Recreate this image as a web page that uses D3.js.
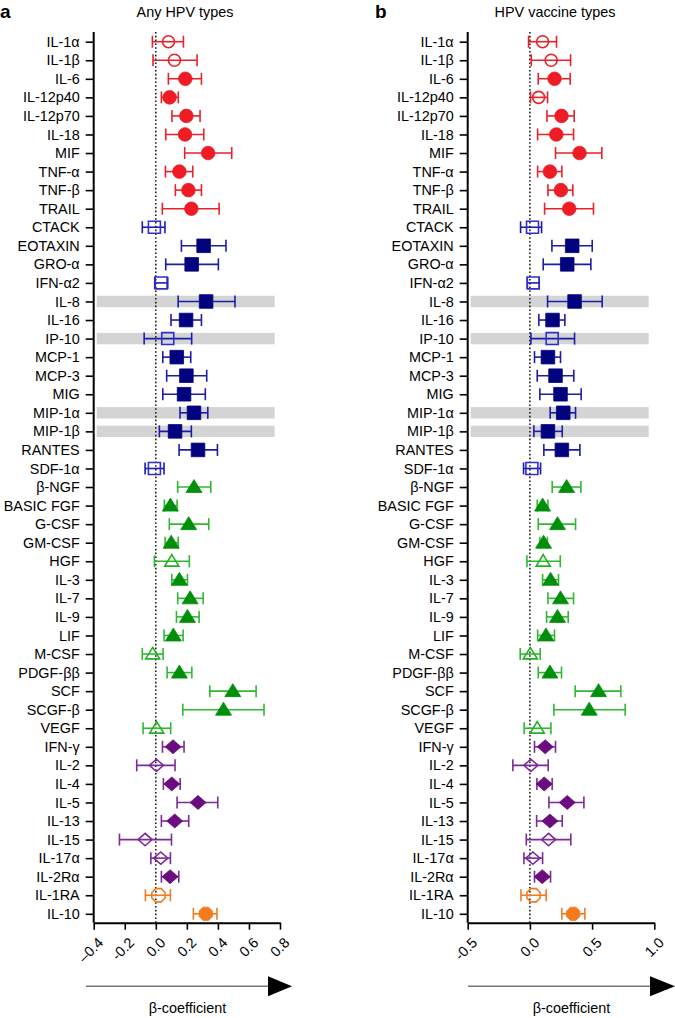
<!DOCTYPE html>
<html><head><meta charset="utf-8">
<script src="https://cdn.jsdelivr.net/npm/d3@7"></script>
<style>body{margin:0;background:#fff}svg{display:block;font-family:"Liberation Sans",Arial,Helvetica,sans-serif}</style>
</head><body><svg id="chart" width="675" height="1018"></svg>
<script>
const cytokines = ["IL-1α","IL-1β","IL-6","IL-12p40","IL-12p70","IL-18","MIF","TNF-α","TNF-β","TRAIL",
 "CTACK","EOTAXIN","GRO-α","IFN-α2","IL-8","IL-16","IP-10","MCP-1","MCP-3","MIG","MIP-1α","MIP-1β","RANTES","SDF-1α",
 "β-NGF","BASIC FGF","G-CSF","GM-CSF","HGF","IL-3","IL-7","IL-9","LIF","M-CSF","PDGF-ββ","SCF","SCGF-β","VEGF",
 "IFN-γ","IL-2","IL-4","IL-5","IL-13","IL-15","IL-17α","IL-2Rα","IL-1RA","IL-10"];
const groupNames = ["red","blue","green","purple","orange"];
const groupSizes = [10,14,14,8,2];
const highlighted = ["IL-8","IP-10","MIP-1α","MIP-1β"];

// Panel a: Any HPV types
const estA  = [0.082,0.120,0.190,0.089,0.197,0.188,0.337,0.152,0.210,0.229,
 -0.009,0.308,0.231,0.034,0.324,0.195,0.077,0.135,0.197,0.182,0.246,0.124,0.272,-0.009,
 0.246,0.094,0.212,0.099,0.103,0.152,0.221,0.204,0.113,-0.020,0.152,0.496,0.436,0.006,
 0.111,0.004,0.103,0.272,0.122,-0.069,0.032,0.092,0.017,0.322];
const lowA  = [-0.022,-0.018,0.081,0.036,0.104,0.064,0.186,0.062,0.126,0.042,
 -0.087,0.165,0.064,-0.007,0.144,0.098,-0.075,0.045,0.070,0.045,0.156,0.023,0.150,-0.069,
 0.141,0.055,0.087,0.060,-0.009,0.103,0.141,0.133,0.053,-0.087,0.073,0.348,0.174,-0.082,
 0.043,-0.123,0.049,0.137,0.036,-0.234,-0.032,0.036,-0.067,0.242];
const highA = [0.178,0.266,0.294,0.145,0.285,0.309,0.489,0.238,0.294,0.408,
 0.059,0.452,0.403,0.077,0.510,0.294,0.231,0.225,0.328,0.319,0.335,0.229,0.397,0.053,
 0.354,0.137,0.341,0.144,0.216,0.204,0.305,0.279,0.176,0.047,0.232,0.646,0.697,0.096,
 0.182,0.124,0.157,0.399,0.212,0.101,0.094,0.148,0.094,0.394];
const filledA = [0,0,1,1,1,1,1,1,1,1, 0,1,1,0,1,1,0,1,1,1,1,1,1,0, 1,1,1,1,0,1,1,1,1,0,1,1,1,0, 1,0,1,1,1,0,0,1, 0,1];

// Panel b: HPV vaccine types
const estB  = [0.102,0.171,0.198,0.070,0.254,0.212,0.399,0.161,0.249,0.316,
 0.021,0.340,0.300,0.027,0.359,0.182,0.179,0.145,0.206,0.246,0.268,0.145,0.257,0.016,
 0.295,0.102,0.222,0.110,0.107,0.166,0.246,0.222,0.129,0.003,0.161,0.552,0.477,0.059,
 0.123,0.008,0.115,0.300,0.161,0.150,0.024,0.099,0.029,0.348];
const lowB  = [-0.011,0.011,0.067,0.005,0.137,0.062,0.206,0.062,0.145,0.118,
 -0.075,0.177,0.107,-0.021,0.142,0.072,0.008,0.037,0.059,0.080,0.163,0.032,0.112,-0.051,
 0.179,0.059,0.067,0.080,-0.024,0.102,0.145,0.134,0.062,-0.078,0.067,0.364,0.193,-0.046,
 0.037,-0.137,0.056,0.153,0.054,-0.029,-0.048,0.037,-0.072,0.257];
const highB = [0.214,0.327,0.324,0.142,0.356,0.351,0.578,0.257,0.345,0.511,
 0.094,0.501,0.490,0.075,0.581,0.281,0.359,0.246,0.353,0.412,0.367,0.260,0.402,0.086,
 0.410,0.145,0.367,0.140,0.244,0.230,0.351,0.308,0.198,0.083,0.254,0.731,0.766,0.169,
 0.206,0.147,0.179,0.434,0.260,0.329,0.102,0.166,0.131,0.442];
const filledB = [0,0,1,0,1,1,1,1,1,1, 0,1,1,0,1,1,0,1,1,1,1,1,1,0, 1,1,1,1,0,1,1,1,1,0,1,1,1,0, 1,0,1,1,1,0,0,1, 0,1];

const ticksA = [-0.4,-0.2,0.0,0.2,0.4,0.6,0.8];
const tickLabelsA = ["–0.4","-0.2","0.0","0.2","0.4","0.6","0.8"];
const ticksB = [-0.5,0.0,0.5,1.0];
const tickLabelsB = ["-0.5","0.0","0.5","1.0"];

const style = {
  red:    {fill:"#ee1c24", line:"#e8222a", open:"#e8222a", shape:"circle"},
  blue:   {fill:"#02027f", line:"#1c1ca6", open:"#2e2ed2", shape:"square"},
  green:  {fill:"#008f0a", line:"#30b830", open:"#22b022", shape:"triangle"},
  purple: {fill:"#6b0d7e", line:"#7d2a98", open:"#7d2a98", shape:"diamond"},
  orange: {fill:"#f47a20", line:"#f47a20", open:"#f47a20", shape:"octagon"}
};
const groupOf = [];
groupSizes.forEach((n,i)=>{for(let k=0;k<n;k++) groupOf.push(groupNames[i]);});

const svg = d3.select("#chart");
const font = 14.4;

function shapePath(shape, filled){
  const s = filled ? 1 : 0.88;
  if(shape==="circle"){ const r=6.8*s; return `M${r},0A${r},${r} 0 1,1 ${-r},0A${r},${r} 0 1,1 ${r},0Z`; }
  if(shape==="square"){ const h=6.8*s; return `M${-h},${-h}H${h}V${h}H${-h}Z`; }
  if(shape==="triangle"){ return `M0,${-7.5*s}L${8*s},${5.5*s}L${-8*s},${5.5*s}Z`; }
  if(shape==="diamond"){ return `M${-8*s},0L0,${-7*s}L${8*s},0L0,${7*s}Z`; }
  if(shape==="octagon"){ const r=7.2; let p=""; for(let i=0;i<8;i++){const a=Math.PI/8+i*Math.PI/4; p+=(i?"L":"M")+(r*Math.cos(a)).toFixed(2)+","+(r*Math.sin(a)).toFixed(2);} return p+"Z"; }
}

function panel(opt){
  const g = svg.append("g");
  const x = d3.scaleLinear().domain(opt.domain).range([opt.x0, opt.x1]);
  const y = d3.scalePoint().domain(cytokines).range([41.7, 913.8]);
  const axisY = 922.7;

  // bands
  g.selectAll("rect.band").data(highlighted).join("rect")
    .attr("x", opt.x0+3).attr("width", opt.bandW)
    .attr("y", d=>y(d)-5.7).attr("height", 11.4).attr("fill","#d4d4d4");

  // zero line
  g.append("line").attr("x1",x(0)).attr("x2",x(0)).attr("y1",32).attr("y2",axisY)
    .attr("stroke","#111").attr("stroke-width",1.5).attr("stroke-dasharray","1.6,2.2");

  const rows = cytokines.map((c,i)=>({c, e:opt.est[i], lo:opt.low[i], hi:opt.high[i], f:opt.filled[i], grp:groupOf[i]}));
  const eb = g.selectAll("g.eb").data(rows).join("g").attr("transform",d=>`translate(0,${y(d.c)})`);
  eb.append("line").attr("x1",d=>x(d.lo)).attr("x2",d=>x(d.hi)).attr("stroke",d=>style[d.grp].line).attr("stroke-width",1.6);
  eb.append("line").attr("x1",d=>x(d.lo)).attr("x2",d=>x(d.lo)).attr("y1",-6).attr("y2",6).attr("stroke",d=>style[d.grp].line).attr("stroke-width",1.6);
  eb.append("line").attr("x1",d=>x(d.hi)).attr("x2",d=>x(d.hi)).attr("y1",-6).attr("y2",6).attr("stroke",d=>style[d.grp].line).attr("stroke-width",1.6);
  eb.append("path").attr("transform",d=>`translate(${x(d.e)},0)`)
    .attr("d",d=>shapePath(style[d.grp].shape, d.f))
    .attr("fill",d=>d.f? style[d.grp].fill : "none")
    .attr("stroke",d=>d.f? style[d.grp].fill : style[d.grp].open)
    .attr("stroke-width",d=>d.f?0.8:1.6);

  // y axis
  const ya = g.append("g").attr("transform",`translate(${opt.x0},0)`)
    .call(d3.axisLeft(y).tickSize(8).tickPadding(6));
  ya.select(".domain").attr("d",`M0,32V${axisY}`).attr("stroke","#000").attr("stroke-width",2);
  ya.selectAll(".tick line").attr("stroke","#000").attr("stroke-width",1.6);
  ya.selectAll(".tick text").attr("font-size",font).attr("fill","#000").attr("font-family","Liberation Sans, Arial, sans-serif");

  // x axis
  const xa = g.append("g").attr("transform",`translate(0,${axisY})`)
    .call(d3.axisBottom(x).tickValues(opt.ticks).tickFormat((d,i)=>opt.tickLabels[i]).tickSize(7).tickSizeOuter(0));
  xa.select(".domain").attr("stroke","#000").attr("stroke-width",2);
  xa.selectAll(".tick line").attr("stroke","#000").attr("stroke-width",1.6);
  xa.selectAll(".tick text").attr("font-size",font).attr("fill","#000")
    .attr("font-family","Liberation Sans, Arial, sans-serif")
    .attr("text-anchor","end").attr("dy",0).attr("y",0)
    .attr("transform","translate(10,21) rotate(-45)");

  // arrow
  g.append("line").attr("x1",opt.arrowX0).attr("x2",opt.arrowHeadX).attr("y1",986.3).attr("y2",986.3)
    .attr("stroke","#777").attr("stroke-width",1.4);
  g.append("path").attr("d",`M${opt.arrowHeadX},976.3L${opt.arrowTip},986.3L${opt.arrowHeadX},996.3Z`).attr("fill","#000");
  g.append("text").attr("x",opt.labelX).attr("y",1013).attr("text-anchor","middle")
    .attr("font-size",font).text("β-coefficient");

  // title and panel letter
  g.append("text").attr("x",opt.titleX).attr("y",17).attr("text-anchor","middle").attr("font-size",font).text(opt.title);
  g.append("text").attr("x",opt.letterX).attr("y",18).attr("font-size",19).attr("font-weight","bold").text(opt.letter);
}

panel({domain:[-0.4,0.8], x0:93.7, x1:280, est:estA, low:lowA, high:highA, filled:filledA,
  ticks:ticksA, tickLabels:tickLabelsA, bandW:178, arrowX0:86, arrowHeadX:268, arrowTip:292,
  labelX:187.5, titleX:185, title:"Any HPV types", letterX:0, letter:"a"});
panel({domain:[-0.5,1.0], x0:467.7, x1:654.3, est:estB, low:lowB, high:highB, filled:filledB,
  ticks:ticksB, tickLabels:tickLabelsB, bandW:178, arrowX0:468, arrowHeadX:650, arrowTip:675,
  labelX:571.5, titleX:555, title:"HPV vaccine types", letterX:375, letter:"b"});
</script></body></html>
